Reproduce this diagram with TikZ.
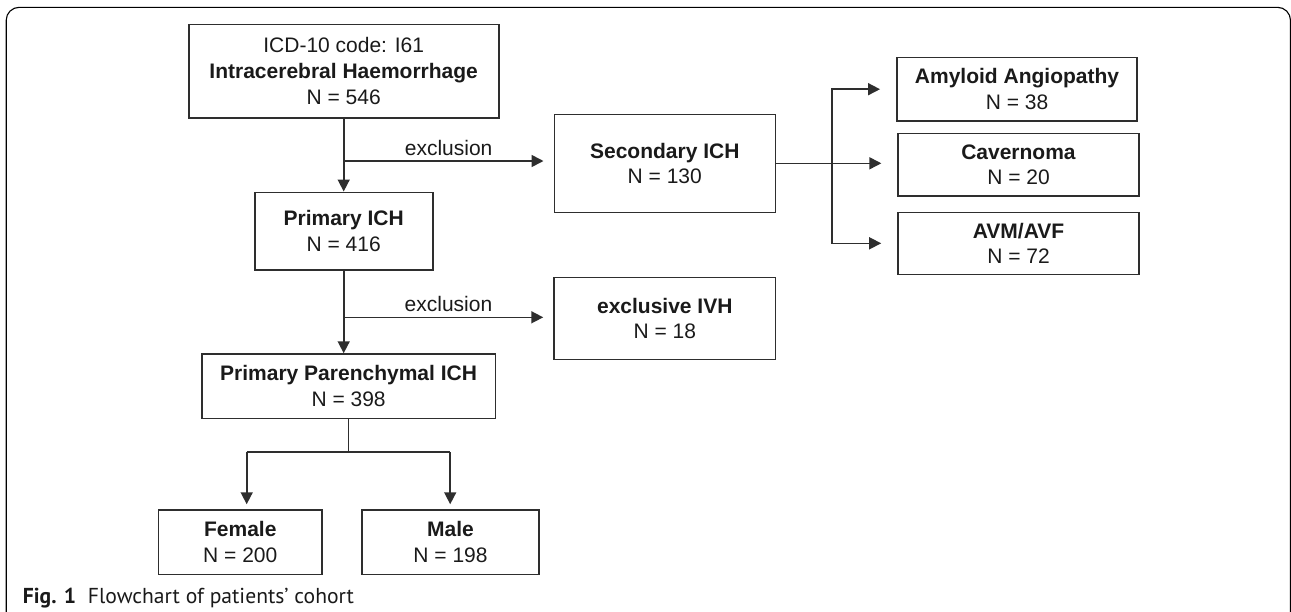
\documentclass[tikz,border=0pt]{standalone}
\usepackage{fontspec}
\setmainfont{Liberation Sans}
\newfontfamily\capfont{PT Sans}
\usetikzlibrary{arrows.meta}
\definecolor{boxline}{HTML}{2E2E2E}
\definecolor{txt}{HTML}{1A1A1A}
\begin{document}
\begin{tikzpicture}[x=1pt,y=-1pt,
  box/.style={draw=boxline, line width=1.6pt, text=txt, align=center, inner sep=0pt, font=\fontsize{21}{25.6}\selectfont},
  arr/.style={draw=boxline, line width=1.6pt, -{Triangle[length=12pt,width=12pt]}},
  ln/.style={draw=boxline, line width=1.6pt},
  lab/.style={text=txt, font=\fontsize{21}{25}\selectfont, anchor=base, inner sep=0pt}
]
\useasboundingbox (0,0) rectangle (1291,611);
\draw[line width=1.1pt, rounded corners=13pt] (6.2,640) -- (6.2,7.3) -- (1290.5,7.3) -- (1290.5,640);

\node[box, minimum width=310pt, minimum height=93.4pt] (top) at (343.7,71) {ICD-10 code: I61\\\textbf{Intracerebral Haemorrhage}\\N = 546};
\node[box, minimum width=178pt, minimum height=77.4pt] (prim) at (343.7,231) {\textbf{Primary ICH}\\N = 416};
\node[box, minimum width=221pt, minimum height=98pt] (sec) at (664.8,163.3) {\textbf{Secondary ICH}\\N = 130};
\node[box, minimum width=221.5pt, minimum height=82pt] (ivh) at (664.8,318.4) {\textbf{exclusive IVH}\\N = 18};
\node[box, minimum width=293.5pt, minimum height=64.3pt] (pp) at (348.6,386.2) {\textbf{Primary Parenchymal ICH}\\N = 398};
\node[box, minimum width=240.3pt, minimum height=63.7pt] (amy) at (1017,89.2) {\textbf{Amyloid Angiopathy}\\N = 38};
\node[box, minimum width=240.7pt, minimum height=62.7pt] (cav) at (1018.5,164.7) {\textbf{Cavernoma}\\N = 20};
\node[box, minimum width=241pt, minimum height=62pt] (avm) at (1018.5,243.3) {\textbf{AVM/AVF}\\N = 72};
\node[box, minimum width=163.7pt, minimum height=64.3pt] (fem) at (240.3,542.2) {\textbf{Female}\\N = 200};
\node[box, minimum width=177pt, minimum height=64.3pt] (male) at (450.5,542.2) {\textbf{Male}\\N = 198};

\draw[arr] (top.south) -- (prim.north);
\coordinate (e1) at (343.7,161);
\draw[arr, shorten >=10pt] (e1) -- (e1 -| sec.west) node[lab, midway, yshift=5.5pt] {exclusion};

\draw[arr] (prim.south) -- (prim.south |- pp.north);
\coordinate (e2) at (343.7,317.3);
\draw[arr, shorten >=10pt] (e2) -- (e2 -| ivh.west) node[lab, midway, yshift=6pt] {exclusion};

\coordinate (br) at (832,163.3);
\draw[ln] (sec.east) -- (br);
\draw[arr, shorten >=16pt] (br) -- (br -| cav.west);
\draw[arr, shorten >=16pt] (br) |- (amy.west);
\draw[arr, shorten >=16pt] (br) |- (avm.west);

\coordinate (sp) at (347.4,452);
\coordinate (fl) at (246.7,452);
\coordinate (ml) at (450.2,452);
\draw[ln] (pp.south) -- (pp.south |- sp);
\draw[ln] (fl) -- (ml);
\draw[arr, shorten >=5pt] (fl) -- (fl |- fem.north);
\draw[arr, shorten >=5pt] (ml) -- (ml |- male.north);

\node[anchor=base west, inner sep=0pt, text=txt, font=\capfont\fontsize{21.6}{25}\selectfont] (cap) at (22.7,603) {\textbf{Fig. 1}\hspace{0.55em}Flowchart of patients’ cohort};
\end{tikzpicture}
\end{document}
